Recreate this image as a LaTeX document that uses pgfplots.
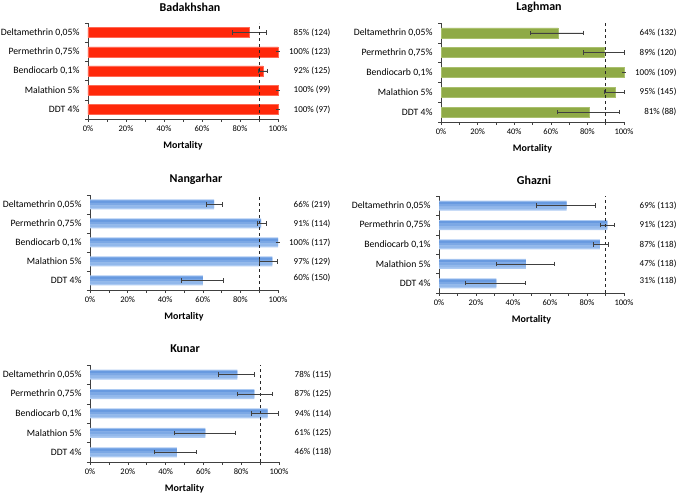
\documentclass[border=0pt]{standalone}
\usepackage{pgfplots}
\usepackage{pgfplotstable}
\pgfplotsset{compat=1.18}
\usepackage{fontspec}
\setmainfont{Carlito}

\definecolor{barred}{RGB}{255,40,10}
\definecolor{redrim}{RGB}{255,105,85}
\definecolor{bargreen}{RGB}{143,170,70}
\definecolor{greenrim}{RGB}{170,192,110}
\definecolor{blueA}{RGB}{104,154,224}
\definecolor{blueB}{RGB}{124,168,229}
\definecolor{blueC}{RGB}{146,184,235}
\definecolor{blueE}{RGB}{172,202,242}
\definecolor{errgray}{RGB}{64,64,64}

% pos: 1 = DDT 4%, ..., 5 = Deltamethrin 0,05%; m = mortality (%); ep/em = error bar plus/minus
\pgfplotstableread{
pos m   ep   em
1   100 0    0
2   100 0    0
3   92  2.5  2.5
4   100 0    0
5   85  9    9
}\badakhshan
\pgfplotstableread{
pos m   ep   em
1   81  16.6 17.2
2   95  5    5.6
3   100 0    0
4   89  11   11.4
5   64  14   15
}\laghman
\pgfplotstableread{
pos m   ep   em
1   60  10.8 11.3
2   97  2.6  7
3   100 0    0
4   91  2.8  2
5   66  4.4  4.1
}\nangarhar
\pgfplotstableread{
pos m   ep   em
1   31  15.5 17
2   47  15.2 15.8
3   87  4.5  3.6
4   91  4    4
5   69  15.3 16.6
}\ghazni
\pgfplotstableread{
pos m   ep   em
1   46  10.3 11.7
2   61  15.9 16.5
3   94  5.6  8.6
4   87  9.5  9
5   78  9.1  9.9
}\kunar

\newcommand{\lblfont}{\fontsize{9}{10}\selectfont}
\newcommand{\rlab}[2]{\node[anchor=east, font=\lblfont] at (axis cs:100,#1) [xshift=56pt] {#2};}
\newcommand{\ptitle}[2]{\node[font=\bfseries\fontsize{12}{14}\selectfont] at (#1) {#2};}

\pgfplotsset{
  panel/.style={
    scale only axis, anchor=south west, clip=false,
    xmin=0, xmax=100, ymin=0.5, ymax=5.5,
    axis x line*=bottom, axis y line*=left,
    axis line style={black!75, line width=0.6pt},
    tick align=outside, major tick length=3pt, minor tick length=3pt,
    every tick/.style={black!75, line width=0.5pt},
    xtick={0,20,...,100},
    xticklabels={0\%,20\%,40\%,60\%,80\%,100\%},
    minor xtick={10,30,50,70,90},
    ytick={1,...,5},
    yticklabels={DDT 4\%, Malathion 5\%, {Bendiocarb 0,1\%}, {Permethrin 0,75\%}, {Deltamethrin 0,05\%}},
    minor ytick={0.5,1.5,...,5.5},
    every major y tick/.style={draw=none},
    xticklabel style={font=\fontsize{8.5}{10}\selectfont},
    yticklabel style={font=\fontsize{9.7}{11}\selectfont, xshift=-2pt},
    xlabel={Mortality},
    xlabel style={font=\bfseries\fontsize{10}{12}\selectfont, at={(axis description cs:0.5,0)}, anchor=center, yshift=-27pt},
  },
  errs/.style={
    error bars/x dir=both, error bars/x explicit,
    error bars/error bar style={errgray, line width=0.7pt},
    error bars/error mark options={errgray, rotate=90, mark size=2.2pt, line width=0.7pt},
  },
  cut/.style={black!85, dashed, line width=0.9pt},
}

% one bar per insecticide in a flat colour, with its error bar
\newcommand{\solidbars}[3]{%
  \addplot[xbar, bar width=10pt, bar shift=0pt, fill=#2, draw=#3, line width=0.5pt, errs]
    table[x=m, y=pos, x error plus=ep, x error minus=em] {#1};
  \addplot[cut] coordinates {(90,0.5) (90,5.5)};
}
% blue bars with a light-to-dark band shading, then the error bars
\newcommand{\bluebars}[1]{%
  \addplot[xbar, bar width=10pt, bar shift=0pt, fill=blueE, draw=none] table[x=m, y=pos] {#1};
  \addplot[xbar, bar width=2.5pt, bar shift=2.75pt, fill=blueA, draw=none] table[x=m, y=pos] {#1};
  \addplot[xbar, bar width=2.5pt, bar shift=0.25pt, fill=blueB, draw=none] table[x=m, y=pos] {#1};
  \addplot[xbar, bar width=2.5pt, bar shift=-2.25pt, fill=blueC, draw=none] table[x=m, y=pos] {#1};
  \addplot[cut] coordinates {(90,0.5) (90,5.5)};
  \addplot[xbar, bar width=10pt, bar shift=0pt, fill=none, draw=none, errs]
    table[x=m, y=pos, x error plus=ep, x error minus=em] {#1};
}

\begin{document}
\begin{tikzpicture}
\path[use as bounding box] (0,0) rectangle (685pt,495pt);

\ptitle{190pt,488pt}{Badakhshan}
\begin{axis}[panel, at={(88pt,376pt)}, width=190pt, height=96pt]
  \solidbars{\badakhshan}{barred}{redrim}
  \rlab{5}{85\% (124)}
  \rlab{4}{100\% (123)}
  \rlab{3}{92\% (125)}
  \rlab{2}{100\% (99)}
  \rlab{1}{100\% (97)}
\end{axis}

\ptitle{539pt,488pt}{Laghman}
\begin{axis}[panel, at={(441pt,373pt)}, width=183pt, height=99pt]
  \solidbars{\laghman}{bargreen}{greenrim}
  \rlab{5}{64\% (132)}
  \rlab{4}{89\% (120)}
  \rlab{3}{100\% (109)}
  \rlab{2}{95\% (145)}
  \rlab{1}{81\% (88)}
\end{axis}

\ptitle{196pt,316pt}{Nangarhar}
\begin{axis}[panel, at={(90pt,205pt)}, width=188pt, height=95pt]
  \bluebars{\nangarhar}
  \rlab{5}{66\% (219)}
  \rlab{4}{91\% (114)}
  \rlab{3}{100\% (117)}
  \rlab{2}{97\% (129)}
  \rlab{1.15}{60\% (150)}
\end{axis}

\ptitle{534pt,315pt}{Ghazni}
\begin{axis}[panel, at={(439pt,202pt)}, width=185pt, height=97pt]
  \bluebars{\ghazni}
  \rlab{5}{69\% (113)}
  \rlab{4}{91\% (123)}
  \rlab{3}{87\% (118)}
  \rlab{2}{47\% (118)}
  \rlab{1.15}{31\% (118)}
\end{axis}

\ptitle{185pt,146pt}{Kunar}
\begin{axis}[panel, at={(90pt,33pt)}, width=189pt, height=97pt]
  \bluebars{\kunar}
  \rlab{5}{78\% (115)}
  \rlab{4}{87\% (125)}
  \rlab{3}{94\% (114)}
  \rlab{2}{61\% (125)}
  \rlab{1}{46\% (118)}
\end{axis}
\end{tikzpicture}
\end{document}
